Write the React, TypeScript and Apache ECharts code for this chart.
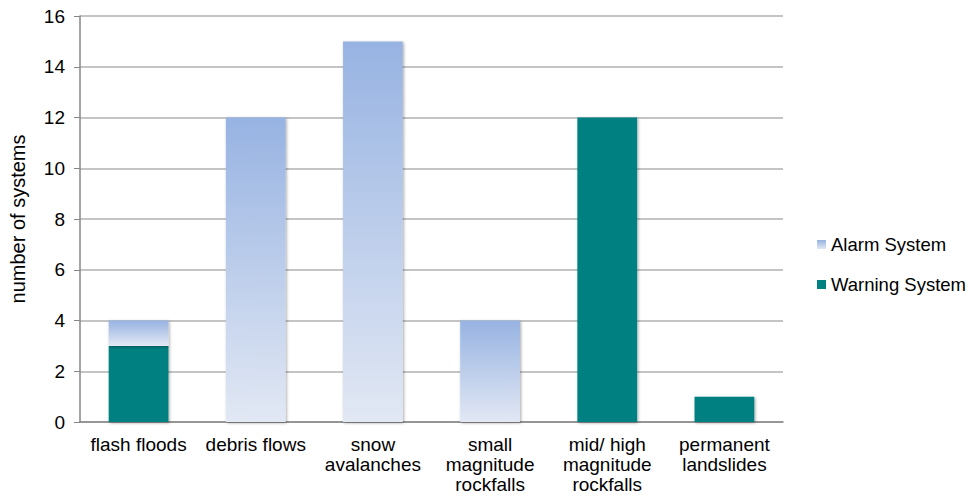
import React, { useEffect, useRef } from "react";
import * as echarts from "echarts";

const categories = [
  "flash floods",
  "debris flows",
  "snow\navalanches",
  "small\nmagnitude\nrockfalls",
  "mid/ high\nmagnitude\nrockfalls",
  "permanent\nlandslides",
];
const warningSystem: (number | string)[] = [3, "-", "-", "-", 12, 1];
const alarmSystem: (number | string)[] = [1, 12, 15, 4, "-", "-"];
const yTicks = { min: 0, max: 16, interval: 2 };

const FONT = "'Liberation Sans', Arial, sans-serif";

export default function App() {
  const ref = useRef<HTMLDivElement>(null);

  useEffect(() => {
    if (!ref.current) return;
    const chart = echarts.init(ref.current, undefined, { renderer: "svg" });

    const barShadow = {
      shadowColor: "rgba(0,0,0,0.35)",
      shadowBlur: 3,
      shadowOffsetX: 1,
      shadowOffsetY: 1,
    };

    chart.setOption({
      animation: false,
      textStyle: { fontFamily: FONT },
      grid: { left: 72, right: 189, top: 16, bottom: 76 },
      legend: {
        orient: "vertical",
        left: 812,
        top: 230,
        itemWidth: 9,
        itemHeight: 9,
        itemGap: 21,
        icon: "rect",
        textStyle: { fontFamily: FONT, fontSize: 18.5, color: "#000" },
        data: ["Alarm System", "Warning System"],
      },
      xAxis: {
        type: "category",
        data: categories,
        axisLine: { show: true, lineStyle: { color: "#868686", width: 1.5 } },
        axisTick: { show: false },
        axisLabel: {
          interval: 0,
          color: "#000",
          fontFamily: FONT,
          fontSize: 19,
          lineHeight: 20,
          margin: 12,
        },
      },
      yAxis: {
        type: "value",
        min: yTicks.min,
        max: yTicks.max,
        interval: yTicks.interval,
        name: "number of systems",
        nameLocation: "middle",
        nameGap: 52,
        nameTextStyle: { fontFamily: FONT, fontSize: 20, color: "#000" },
        axisLine: { show: true, lineStyle: { color: "#868686", width: 1.5 } },
        axisTick: { show: true, length: 6, lineStyle: { color: "#868686" } },
        axisLabel: { color: "#000", fontFamily: FONT, fontSize: 19, margin: 15 },
        splitLine: { show: true, lineStyle: { color: "#b0b0b0", width: 1.5 } },
      },
      series: [
        {
          name: "Warning System",
          type: "bar",
          stack: "total",
          barWidth: "51%",
          data: warningSystem,
          itemStyle: { color: "#008080", ...barShadow },
        },
        {
          name: "Alarm System",
          type: "bar",
          stack: "total",
          barWidth: "51%",
          data: alarmSystem,
          itemStyle: {
            color: new echarts.graphic.LinearGradient(0, 0, 0, 1, [
              { offset: 0, color: "#97b3e2" },
              { offset: 1, color: "#e2e8f4" },
            ]),
            ...barShadow,
          },
        },
      ],
    });

    return () => chart.dispose();
  }, []);

  return (
    <div
      ref={ref}
      style={{ position: "absolute", left: 0, top: 0, width: 972, height: 498 }}
    />
  );
}
